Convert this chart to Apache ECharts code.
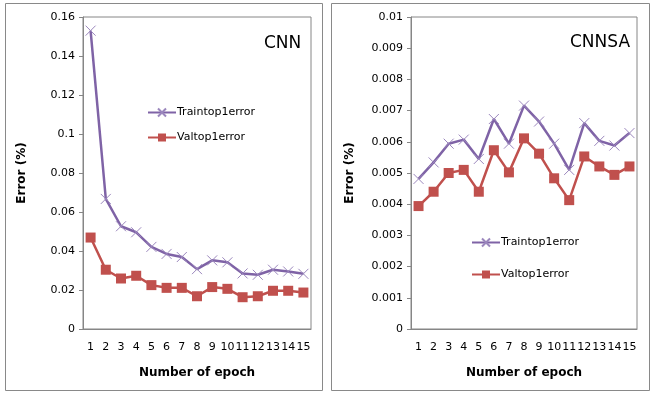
<!DOCTYPE html>
<html>
<head>
<meta charset="utf-8">
<script src="https://cdn.jsdelivr.net/npm/echarts@6/dist/echarts.min.js"></script>
<style>
html, body { margin: 0; padding: 0; background: #fff; }
#container { width: 654px; height: 395px; }
</style>
</head>
<body>
<div id="container"></div>
<script>
var epochs = ['1','2','3','4','5','6','7','8','9','10','11','12','13','14','15'];

var cnnTrain = [0.153, 0.0667, 0.0527, 0.0496, 0.0421, 0.0385, 0.0369, 0.0307, 0.0352, 0.0342, 0.0285, 0.0278, 0.0304, 0.0295, 0.0283];
var cnnVal = [0.0469, 0.0304, 0.0259, 0.0273, 0.0225, 0.0211, 0.0211, 0.0168, 0.0215, 0.0206, 0.0163, 0.0168, 0.0196, 0.0196, 0.0187];

var cnnsaTrain = [0.00481, 0.00534, 0.00594, 0.00607, 0.00545, 0.00673, 0.00594, 0.00716, 0.00665, 0.00594, 0.0051, 0.0066, 0.00603, 0.00588, 0.00628];
var cnnsaVal = [0.00394, 0.0044, 0.005, 0.0051, 0.0044, 0.00573, 0.00502, 0.00611, 0.00562, 0.00483, 0.00413, 0.00553, 0.00521, 0.00494, 0.00521];

var dom = document.getElementById('container');
var myChart = echarts.init(dom);

var purple = '#7F63A6';
var red = '#C0504D';
var axisGray = '#868686';
var font = 'DejaVu Sans';
var xMark = 'path://M0,0L10,10M10,0L0,10';

function xAxisFor(idx) {
    return {
        type: 'category',
        gridIndex: idx,
        data: epochs,
        boundaryGap: true,
        axisLine: { lineStyle: { color: axisGray, width: 1 } },
        axisTick: { show: false },
        axisLabel: { interval: 0, color: '#000', fontFamily: font, fontSize: 11, margin: 13 },
        name: 'Number of epoch',
        nameLocation: 'middle',
        nameGap: 38,
        nameTextStyle: { color: '#000', fontFamily: font, fontSize: 12, fontWeight: 'bold' }
    };
}

function yAxisFor(idx, max, interval, gap) {
    return {
        type: 'value',
        gridIndex: idx,
        min: 0,
        max: max,
        interval: interval,
        splitLine: { show: false },
        axisLine: { show: true, lineStyle: { color: axisGray, width: 1 } },
        axisTick: { show: true, length: 4, lineStyle: { color: axisGray } },
        axisLabel: { color: '#000', fontFamily: font, fontSize: 11, margin: 8 },
        name: 'Error (%)',
        nameLocation: 'middle',
        nameGap: gap,
        nameTextStyle: { color: '#000', fontFamily: font, fontSize: 12, fontWeight: 'bold' }
    };
}

function trainSeries(idx, data) {
    return {
        name: 'Traintop1error',
        type: 'line',
        xAxisIndex: idx,
        yAxisIndex: idx,
        data: data,
        symbol: xMark,
        symbolSize: 10,
        showAllSymbol: true,
        lineStyle: { color: purple, width: 2.5 },
        itemStyle: { color: 'none', borderColor: '#9B87BD', borderWidth: 1 },
        animation: false
    };
}

function valSeries(idx, data) {
    return {
        name: 'Valtop1error',
        type: 'line',
        xAxisIndex: idx,
        yAxisIndex: idx,
        data: data,
        symbol: 'rect',
        symbolSize: 10,
        showAllSymbol: true,
        lineStyle: { color: red, width: 2.5 },
        itemStyle: { color: red },
        animation: false
    };
}

option = {
    backgroundColor: '#fff',
    animation: false,
    title: [
        { text: 'CNN', left: 259, top: 30, textStyle: { fontFamily: font, fontSize: 17, fontWeight: 'normal', color: '#000' } },
        { text: 'CNNSA', left: 565, top: 29, textStyle: { fontFamily: font, fontSize: 17, fontWeight: 'normal', color: '#000' } }
    ],
    legend: [
        {
            orient: 'vertical',
            left: 142,
            top: 101,
            itemWidth: 28,
            itemHeight: 10,
            itemGap: 13,
            selectedMode: false,
            textStyle: { fontFamily: font, fontSize: 11, color: '#000', padding: [0, 0, 0, -4] },
            data: ['Traintop1error', 'Valtop1error']
        },
        {
            orient: 'vertical',
            left: 466,
            top: 231,
            itemWidth: 28,
            itemHeight: 10,
            itemGap: 20,
            selectedMode: false,
            textStyle: { fontFamily: font, fontSize: 11, color: '#000', padding: [0, 0, 0, -4] },
            data: ['Traintop1error', 'Valtop1error']
        }
    ],
    grid: [
        { left: 83, top: 17, width: 228, height: 312, show: true, borderColor: axisGray, borderWidth: 1, backgroundColor: 'transparent' },
        { left: 411, top: 17, width: 226, height: 312, show: true, borderColor: axisGray, borderWidth: 1, backgroundColor: 'transparent' }
    ],
    xAxis: [xAxisFor(0), xAxisFor(1)],
    yAxis: [yAxisFor(0, 0.16, 0.02, 55), yAxisFor(1, 0.01, 0.001, 55)],
    series: [
        trainSeries(0, cnnTrain),
        valSeries(0, cnnVal),
        trainSeries(1, cnnsaTrain),
        valSeries(1, cnnsaVal)
    ],
    graphic: [
        { type: 'rect', shape: { x: 5.5, y: 3.5, width: 317, height: 387 }, style: { fill: 'none', stroke: '#898989', lineWidth: 1 }, z: -1 },
        { type: 'rect', shape: { x: 331.5, y: 3.5, width: 318, height: 387 }, style: { fill: 'none', stroke: '#898989', lineWidth: 1 }, z: -1 }
    ]
};

if (option && typeof option === "object") {
    myChart.setOption(option, true);
}
</script>
</body>
</html>
